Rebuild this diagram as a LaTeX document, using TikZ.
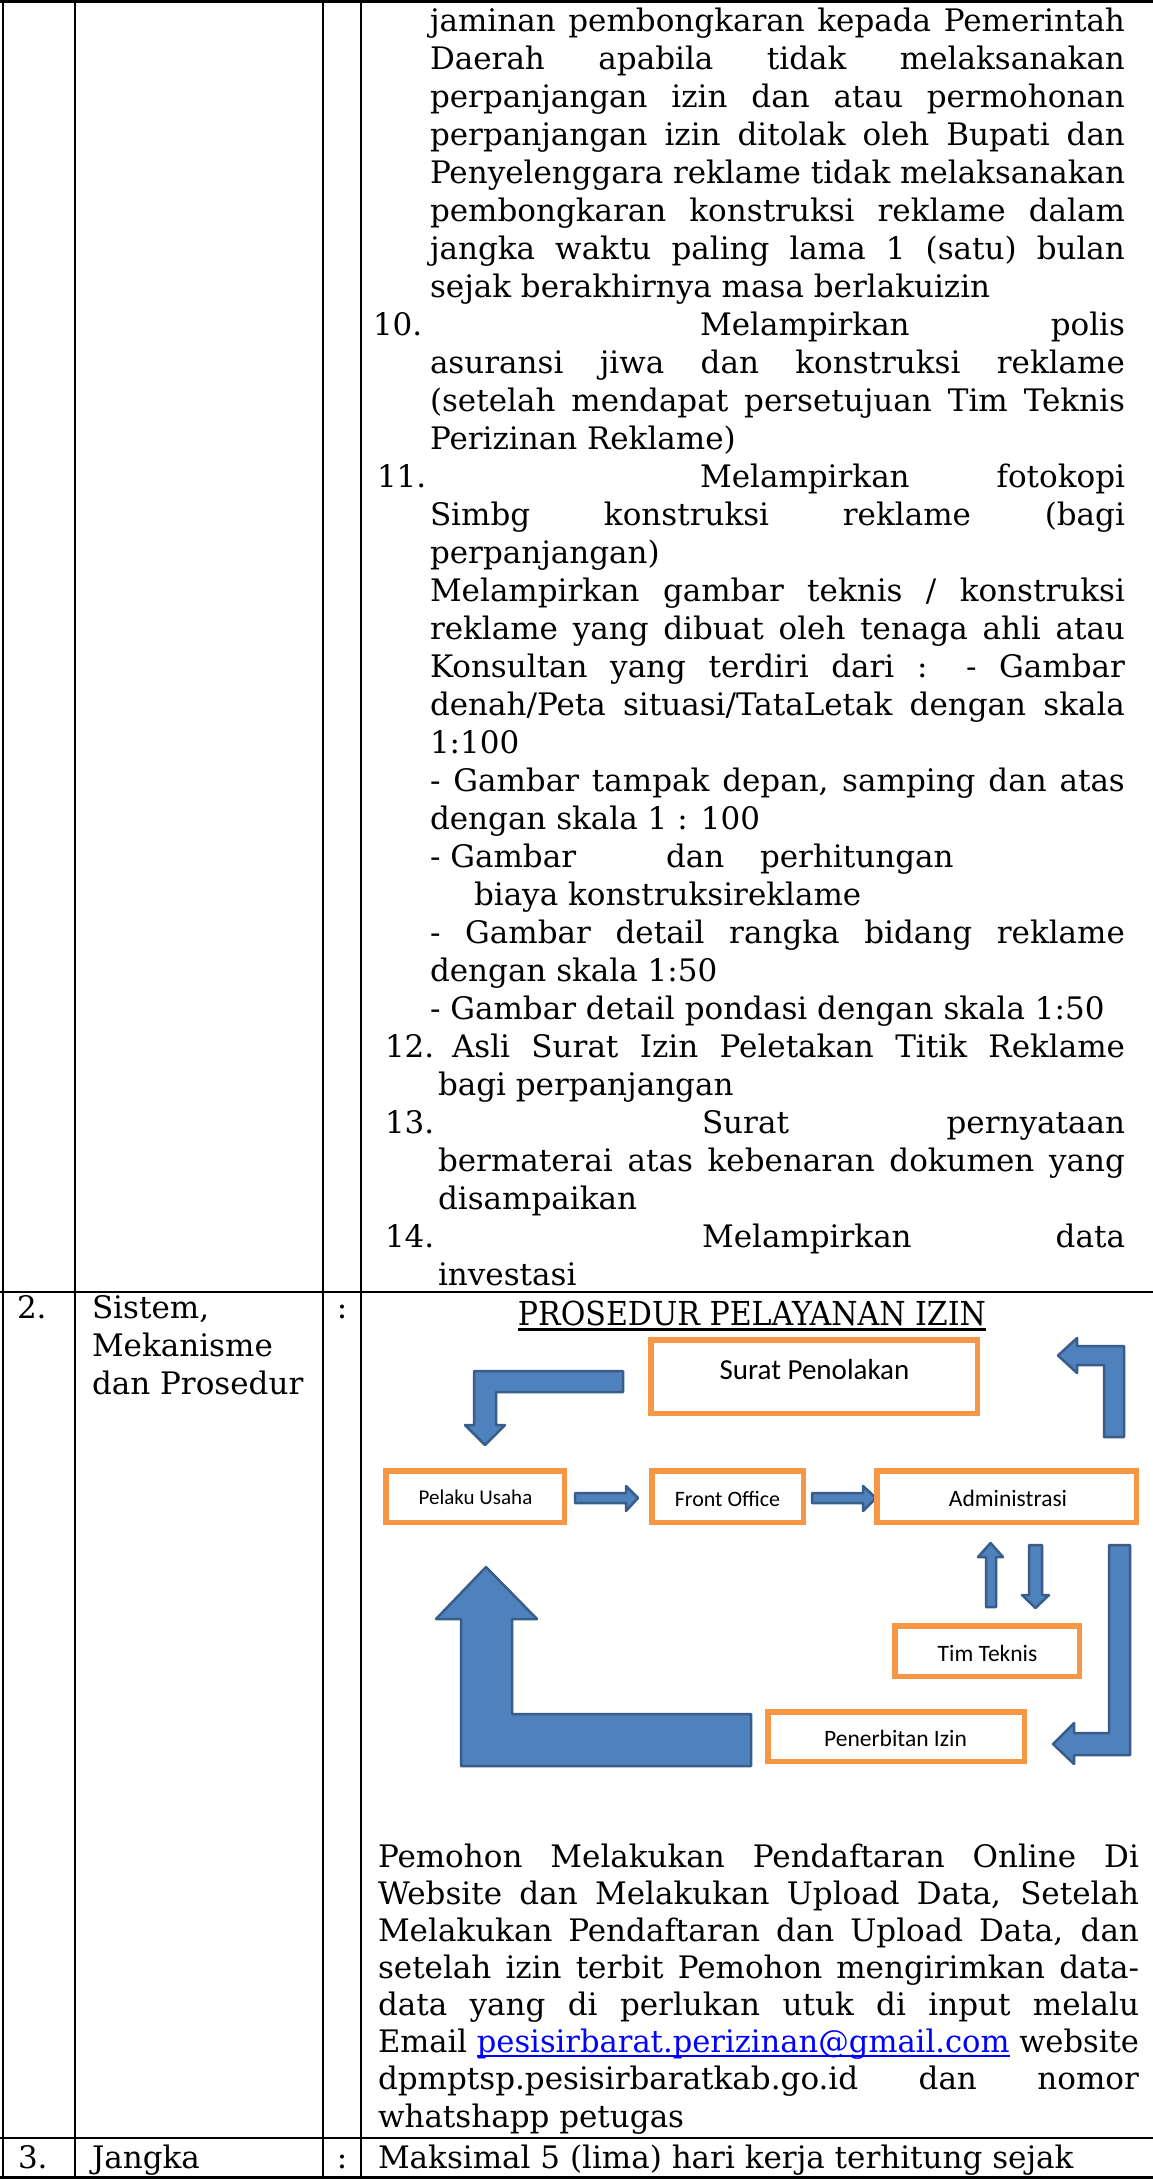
\documentclass[tikz,border=0pt]{standalone}
\usepackage{fontspec}
\usepackage{graphicx}
\setmainfont{DejaVu Serif}
\newfontfamily\calibri{Carlito}

\definecolor{boxorange}{HTML}{F79646}
\definecolor{arrowblue}{HTML}{4F81BD}
\definecolor{arrowedge}{HTML}{385D8A}
\definecolor{linkblue}{HTML}{0000FF}

% one justified line: stretch the spaces, or squeeze slightly if too long
\newsavebox\jbox
\newcommand\just[2]{\sbox\jbox{#2}\ifdim\wd\jbox>#1\relax\resizebox{#1}{\height}{\usebox\jbox}\else\makebox[#1][s]{#2}\fi}
% underline drawn as a rule in the current colour
\newcommand\myul[1]{\setbox0=\hbox{#1}\rlap{\rule[-4.5pt]{\wd0}{2pt}}\box0}

% text line helpers (name, x, baseline y, [width], text)
\newcommand\justline[5]{\node[txt] (#1) at (#2,#3) {\just{#4pt}{#5}};}
\newcommand\plainline[4]{\node[txt] (#1) at (#2,#3) {#4};}
\newcommand\rightword[4]{\node[txtr] (#1) at (#2,#3) {#4};}

\begin{document}
\begin{tikzpicture}[x=1pt,y=-1pt,
  txt/.style={anchor=base west, inner sep=0pt, outer sep=0pt, font=\fontsize{31}{38}\selectfont},
  txtr/.style={txt, anchor=base east},
  tabrule/.style={line width=2.5pt, black},
  obox/.style={draw=boxorange, line width=5.5pt, fill=white, inner sep=0pt},
  lbl/.style={font=\calibri\fontsize{23.5}{28}\selectfont, inner sep=0pt},
  barrow/.style={fill=arrowblue, draw=arrowedge, line width=2.5pt, line join=round}]

\useasboundingbox (0,0) rectangle (1153,2179);
\fill[white] (0,0) rectangle (1153,2179);

% ---------- table rules ----------
\draw[tabrule] (0,1.5) -- (1153,1.5);
\draw[tabrule] (0,1292) -- (1153,1292);
\draw[tabrule] (0,2138) -- (1153,2138);
\draw[tabrule] (0,2177.5) -- (1153,2177.5);
\foreach \cx in {3,75,323,361} \draw[tabrule] (\cx,0) -- (\cx,2179);

% ---------- row 1 (continued list) ----------
\justline{l1}{430}{31}{695}{jaminan pembongkaran kepada Pemerintah}
\justline{l2}{430}{69}{695}{Daerah apabila tidak melaksanakan}
\justline{l3}{430}{107}{695}{perpanjangan izin dan atau permohonan}
\justline{l4}{430}{145}{695}{perpanjangan izin ditolak oleh Bupati dan}
\justline{l5}{430}{183}{695}{Penyelenggara reklame tidak melaksanakan}
\justline{l6}{430}{221}{695}{pembongkaran konstruksi reklame dalam}
\justline{l7}{430}{259}{695}{jangka waktu paling lama 1 (satu) bulan}
\plainline{l8}{430}{297}{sejak berakhirnya masa berlakuizin}
\plainline{n10}{373}{335}{10.}
\plainline{m10}{700}{335}{Melampirkan}
\rightword{p10}{1125}{335}{polis}
\justline{l10}{430}{373}{695}{asuransi jiwa dan konstruksi reklame}
\justline{l11}{430}{411}{695}{(setelah mendapat persetujuan Tim Teknis}
\plainline{l12}{430}{449}{Perizinan Reklame)}
\plainline{n11}{377}{487}{11.}
\plainline{m11}{700}{487}{Melampirkan}
\rightword{f11}{1125}{487}{fotokopi}
\justline{l14}{430}{525}{695}{Simbg konstruksi reklame (bagi}
\plainline{l15}{430}{563}{perpanjangan)}
\justline{l16}{430}{601}{695}{Melampirkan gambar teknis / konstruksi}
\justline{l17}{430}{639}{695}{reklame yang dibuat oleh tenaga ahli atau}
\justline{l18}{430}{677}{695}{Konsultan yang terdiri dari : - Gambar}
\justline{l19}{430}{715}{695}{denah/Peta situasi/TataLetak dengan skala}
\plainline{l20}{430}{753}{1:100}
\justline{l21}{430}{791}{695}{- Gambar tampak depan, samping dan atas}
\plainline{l22}{430}{829}{dengan skala 1 : 100}
\plainline{l23a}{430}{867}{- Gambar}
\plainline{l23b}{666}{867}{dan}
\plainline{l23c}{760}{867}{perhitungan}
\plainline{l24}{474}{905}{biaya konstruksireklame}
\justline{l25}{430}{943}{695}{- Gambar detail rangka bidang reklame}
\plainline{l26}{430}{981}{dengan skala 1:50}
\plainline{l27}{430}{1019}{- Gambar detail pondasi dengan skala 1:50}
\plainline{n12}{385}{1057}{12.}
\justline{l28}{452}{1057}{673}{Asli Surat Izin Peletakan Titik Reklame}
\plainline{l29}{438}{1095}{bagi perpanjangan}
\plainline{n13}{385}{1133}{13.}
\plainline{s13}{702}{1133}{Surat}
\rightword{p13}{1125}{1133}{pernyataan}
\justline{l31}{438}{1171}{687}{bermaterai atas kebenaran dokumen yang}
\plainline{l32}{438}{1209}{disampaikan}
\plainline{n14}{385}{1247}{14.}
\plainline{m14}{702}{1247}{Melampirkan}
\rightword{d14}{1125}{1247}{data}
\plainline{l34}{438}{1285}{investasi}

% ---------- row 2 ----------
\plainline{no2}{17}{1318}{2.}
\plainline{sis}{92}{1318}{Sistem,}
\plainline{mek}{92}{1356}{Mekanisme}
\plainline{pros}{92}{1394}{dan Prosedur}
\node[txt, anchor=base] (col2) at (342,1318) {:};

\node[txt, anchor=base, font=\fontsize{33}{38}\selectfont] (title) at (752,1325) {\resizebox{468pt}{\height}{PROSEDUR PELAYANAN IZIN}};
\draw[line width=2.5pt] ([yshift=-4.5pt]title.base west) -- ([yshift=-4.5pt]title.base east);

% block arrows of the flow
\draw[barrow] (623,1371) -- (474,1371) -- (474,1425) -- (465,1425) -- (485,1445)
  -- (505,1425) -- (496,1425) -- (496,1392) -- (623,1392) -- cycle;
\draw[barrow] (1104,1437) -- (1124,1437) -- (1124,1346) -- (1077,1346) -- (1077,1338)
  -- (1058,1355.5) -- (1077,1373) -- (1077,1365) -- (1104,1365) -- cycle;
\draw[barrow] (575,1493) -- (626,1493) -- (626,1486) -- (638,1498) -- (626,1511)
  -- (626,1503) -- (575,1503) -- cycle;
\draw[barrow] (812,1493) -- (863,1493) -- (863,1486) -- (876,1498) -- (863,1511)
  -- (863,1503) -- (812,1503) -- cycle;
\draw[barrow] (986,1607) -- (986,1557) -- (978,1557) -- (990.5,1543) -- (1003,1557)
  -- (996,1557) -- (996,1607) -- cycle;
\draw[barrow] (1029,1545) -- (1042,1545) -- (1042,1595) -- (1049,1595) -- (1035.5,1608)
  -- (1022,1595) -- (1029,1595) -- cycle;
\draw[barrow] (1109,1545) -- (1130,1545) -- (1130,1755) -- (1074,1755) -- (1074,1764)
  -- (1053,1744) -- (1074,1723) -- (1074,1733) -- (1109,1733) -- cycle;
\draw[barrow] (751,1714) -- (512,1714) -- (512,1619) -- (537,1619) -- (486,1567)
  -- (436,1619) -- (461,1619) -- (461,1766) -- (751,1766) -- cycle;

% process boxes
\node[obox, minimum width=326.5pt, minimum height=73.5pt] (surat) at (814,1376.5) {};
\node[lbl, font=\calibri\fontsize{29}{34}\selectfont] (suratT) at (814.5,1370) {Surat Penolakan};
\node[obox, minimum width=178.5pt, minimum height=51.5pt] (pelaku) at (475,1496.5) {};
\node[lbl, font=\calibri\fontsize{21}{25}\selectfont] (pelakuT) at (475.5,1497) {Pelaku Usaha};
\node[obox, minimum width=151.5pt, minimum height=51.5pt] (front) at (727.5,1496.5) {};
\node[lbl, font=\calibri\fontsize{22}{26}\selectfont] (frontT) at (727.5,1499) {Front Office};
\node[obox, minimum width=259.5pt, minimum height=51.5pt] (admin) at (1006.5,1496.5) {};
\node[lbl] (adminT) at (1008,1498) {Administrasi};
\node[obox, minimum width=184.5pt, minimum height=50.5pt] (tim) at (987,1651) {};
\node[lbl] (timT) at (987.5,1653) {Tim Teknis};
\node[obox, minimum width=256.5pt, minimum height=49.5pt] (terbit) at (896,1736.5) {};
\node[lbl] (terbitT) at (895.5,1738) {Penerbitan Izin};

% paragraph below the flow
\justline{q1}{378}{1867.0}{761}{Pemohon Melakukan Pendaftaran Online Di}
\justline{q2}{378}{1904.2}{761}{Website dan Melakukan Upload Data, Setelah}
\justline{q3}{378}{1941.3}{761}{Melakukan Pendaftaran dan Upload Data, dan}
\justline{q4}{378}{1978.5}{761}{setelah izin terbit Pemohon mengirimkan data-}
\justline{q5}{378}{2015.6}{761}{data yang di perlukan utuk di input melalu}
\justline{q6}{378}{2052.8}{761}{Email \textcolor{linkblue}{\myul{pesisirbarat.perizinan@gmail.com}} website}
\justline{q7}{378}{2089.9}{761}{dpmptsp.pesisirbaratkab.go.id dan nomor}
\plainline{q8}{378}{2127.0}{whatshapp petugas}

% ---------- row 3 ----------
\plainline{no3}{18}{2168}{3.}
\plainline{jangka}{92}{2168}{Jangka}
\node[txt, anchor=base] (col3) at (342,2168) {:};
\plainline{maks}{378}{2168}{Maksimal 5 (lima) hari kerja terhitung sejak}
\end{tikzpicture}
\end{document}
